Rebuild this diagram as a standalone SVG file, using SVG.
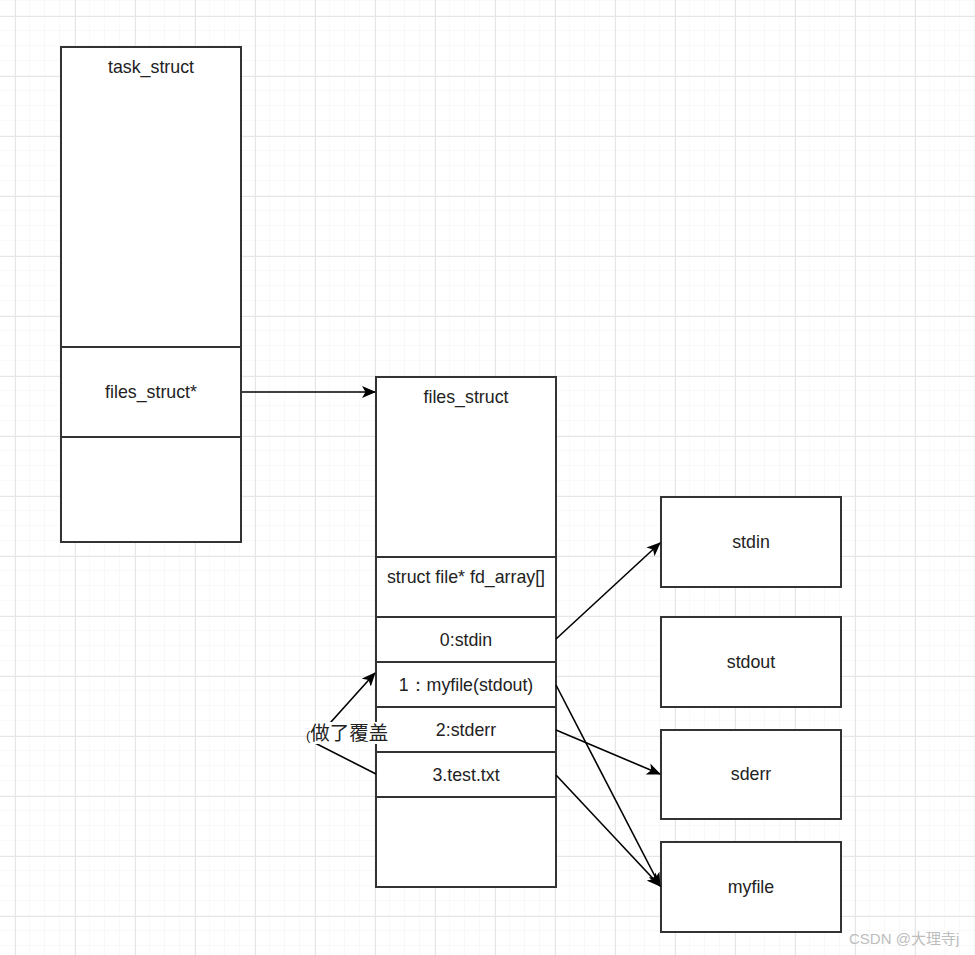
<svg xmlns="http://www.w3.org/2000/svg" width="975" height="955" viewBox="0 0 975 955">
<defs>
<pattern id="minor" width="15" height="15" patternUnits="userSpaceOnUse" x="0" y="1">
<path d="M15 0V15M0 15H15" fill="none" stroke="#f2f2f2" stroke-width="1"/>
</pattern>
<pattern id="major" width="60" height="60" patternUnits="userSpaceOnUse" x="15" y="16">
<path d="M0.5 0V60M0 0.5H60" fill="none" stroke="#e6e6e6" stroke-width="1"/>
</pattern>
<marker id="arr" viewBox="0 0 14 12" refX="13" refY="6" markerWidth="14" markerHeight="12" markerUnits="userSpaceOnUse" orient="auto">
<path d="M0 0L14 6L0 12L3.5 6Z" fill="#000"/>
</marker>
</defs>
<style>
.box{fill:#fff;stroke:#333;stroke-width:2}
.div{stroke:#333;stroke-width:2;fill:none}
.t{font-family:"Liberation Sans",Arial,sans-serif;font-size:17.8px;fill:#222;text-anchor:middle}
.c{fill:none;stroke:#000;stroke-width:1.6;marker-end:url(#arr)}
</style>
<rect width="975" height="955" fill="#fff"/>
<rect width="975" height="955" fill="url(#minor)"/>
<rect width="975" height="955" fill="url(#major)"/>

<g id="task_struct">
<rect class="box" x="61" y="47" width="180" height="495"/>
<line class="div" x1="61" y1="347" x2="241" y2="347"/>
<line class="div" x1="61" y1="437" x2="241" y2="437"/>
<text class="t" x="151" y="73">task_struct</text>
<text class="t" x="151" y="398">files_struct*</text>
</g>

<g id="files_struct">
<rect class="box" x="376" y="377" width="180" height="510"/>
<line class="div" x1="376" y1="557" x2="556" y2="557"/>
<line class="div" x1="376" y1="617" x2="556" y2="617"/>
<line class="div" x1="376" y1="662" x2="556" y2="662"/>
<line class="div" x1="376" y1="707" x2="556" y2="707"/>
<line class="div" x1="376" y1="752" x2="556" y2="752"/>
<line class="div" x1="376" y1="797" x2="556" y2="797"/>
<text class="t" x="466" y="403">files_struct</text>
<text class="t" x="466" y="583">struct file* fd_array[]</text>
<text class="t" x="466" y="646">0:stdin</text>
<text class="t" x="466" y="691">1：myfile(stdout)</text>
<text class="t" x="466" y="736">2:stderr</text>
<text class="t" x="466" y="781">3.test.txt</text>
</g>

<g id="stdin"><rect class="box" x="661" y="497" width="180" height="90"/><text class="t" x="751" y="548">stdin</text></g>
<g id="stdout"><rect class="box" x="661" y="617" width="180" height="90"/><text class="t" x="751" y="668">stdout</text></g>
<g id="sderr"><rect class="box" x="661" y="730" width="180" height="89"/><text class="t" x="751" y="780">sderr</text></g>
<g id="myfile"><rect class="box" x="661" y="842" width="180" height="90"/><text class="t" x="751" y="893">myfile</text></g>

<g id="connectors">
<line class="c" x1="242" y1="392" x2="375" y2="392"/>
<line class="c" x1="556" y1="639" x2="660" y2="543"/>
<line class="c" x1="556" y1="685" x2="660" y2="886"/>
<line class="c" x1="556" y1="730" x2="660" y2="774"/>
<line class="c" x1="556" y1="775" x2="660" y2="886"/>
<polyline class="c" points="376,774 313,742 375,673"/>
<rect x="309" y="722" width="80" height="22" fill="#fff"/>
<text x="306" y="740" style="font-family:'Liberation Sans','Noto Sans CJK SC',sans-serif;font-size:19.5px;fill:#222"><tspan style="font-size:13px">(</tspan>做了覆盖</text>
</g>

<text x="849" y="944" style="font-family:'Liberation Sans','Noto Sans CJK SC',sans-serif;font-size:15px;fill:#bdbdbd">CSDN @大理寺j</text>
</svg>
